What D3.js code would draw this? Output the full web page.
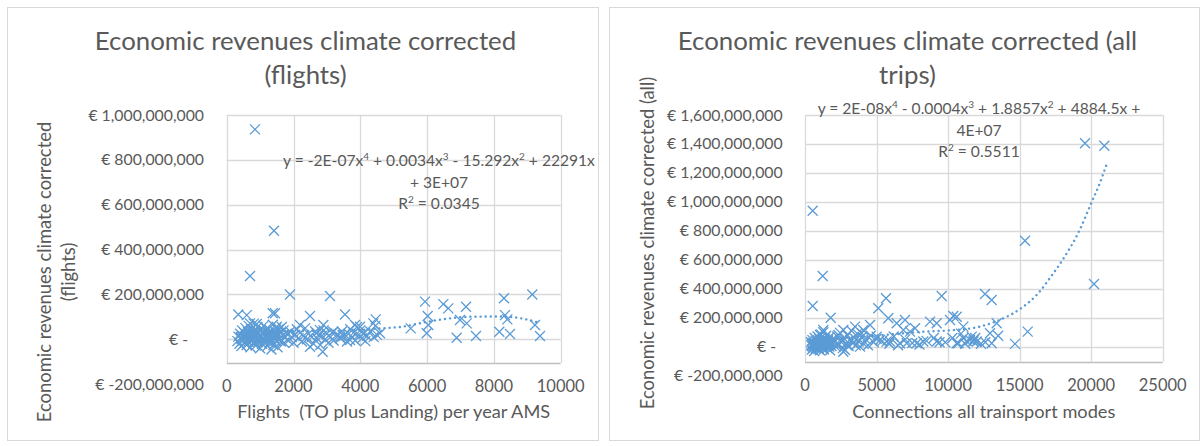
<!DOCTYPE html>
<meta charset="utf-8">
<style>
  body { margin: 0; background: #fff; }
  text { font-family: Lato, "Open Sans", sans-serif; fill: #595959; white-space: pre; }
</style>
<body>
<script src="https://cdn.jsdelivr.net/npm/d3@7"></script>
<script>

// ---- data (values in millions of €) ----

var flightsX = [
  847, 1416, 698, 1895, 3093, 348, 600, 1377, 1446, 2494, 3542, 4461,
  5937, 6018, 6485, 6635, 7165, 8302, 9150, 8332, 8402, 6985, 7185, 9230,
  5509, 6036, 5988, 6886, 7464, 8162, 8482, 9380, 2874, 2494,
  698, 898, 1497, 2195, 2894, 3842, 3992, 4390, 4091, 4590, 3692, 3393, 3193, 2794,
  320, 350, 380, 400, 420, 440, 460, 480, 500, 520, 540, 560, 580, 600, 610, 630,
  650, 660, 680, 700, 710, 730, 750, 760, 780, 800, 810, 830, 850, 870, 880, 900,
  920, 940, 960, 980, 1000, 1020, 1040, 1060, 1080, 1100, 1120, 1140, 1160, 1180,
  1200, 1220, 1240, 1260, 1280, 1300, 1320, 1340, 1360, 1380, 1400, 1420, 1440,
  1460, 1480, 1500, 1520, 1540, 1560, 1580, 1600, 1620, 1650, 1680, 1700, 1720, 1750,
  1800, 1850, 1900, 1950, 2000, 2050, 2100, 2150, 2200, 2250, 2300, 2350, 2400,
  2450, 2550, 2600, 2650, 2700, 2750, 2800, 2850, 2900, 2950, 3000, 3050, 3100,
  3150, 3200, 3300, 3400, 3450, 3500, 3600, 3650, 3700, 3750, 3800, 3850, 3900,
  3950, 4000, 4050, 4100, 4150, 4200, 4300, 4400, 4450, 4500,
  450, 520, 590, 640, 720, 790, 860, 940, 1010, 1090, 1170, 1250, 1330, 1410, 1490, 1570
];
var flightsY = [
  936, 484, 282, 200, 193, 111, 108, 116, 116, 104, 111, 89,
  168, 104, 157, 138, 145, 183, 200, 108, 89, 86, 71, 64,
  49, 64, 27, 7, 15, 34, 24, 15, -55, -33,
  71, 68, 56, 64, 64, 64, 56, 71, 27, 27, -3, 12, 34, 41,
  -8, 12, -20, 25, 5, -30, 40, 15, -5, 30, -15, 50, 8, -25, 20, 35,
  -10, 60, 2, 18, -35, 45, 10, -5, 28, -18, 70, 12, 38, -28, 22, 5,
  55, -12, 30, 15, -40, 42, 8, -20, 25, 60, 0, 35, -8, 18,
  48, -30, 10, 28, -15, 40, 5, -45, 20, 65, -25, 12, 35,
  -5, 50, 15, -35, 25, 45, 2, 30, -10, 55, 18, 40, -15, 8,
  25, -5, 35, 10, -15, 20, 45, 5, 30, -10, 15, 50, 0,
  25, 10, -20, 35, 5, 20, -25, 15, 40, 0, 25, -15, 10,
  30, -5, 20, 5, 35, 15, -10, 25, 45, 10, 30, -5, 55,
  20, 40, 5, 25, -8, 15, 35, 10, 60, 20,
  0, 10, -5, 15, 3, 22, -12, 8, 18, -2, 12, 26, -8, 6, 20, 0
];

var tripsX = [
  537, 1237, 537, 1795, 19570, 20920, 15376, 20200, 15564, 14677,
  12580, 13048, 9553, 5661, 5123, 5822, 6409, 6989, 7688, 8736, 9203,
  10134, 10603, 11065, 11653, 12930, 13398, 13048, 11765, 10603, 9203,
  8268, 7108, 5941, 5011, 4546, 3963, 3497, 2679, 2797,
  10366, 4075, 2330, 1281, 1048, 2679, 5241, 5706, 6640, 7807, 10717,
  11532, 12000, 11064, 7340, 6873, 9000, 9400, 10900, 11300, 11900, 12300, 13500,
  450, 480, 520, 560, 600, 640, 680, 720, 760, 800, 840, 880, 920, 960, 1000,
  1040, 1080, 1120, 1160, 1200, 1240, 1280, 1320, 1360, 1400, 1440, 1480, 1520,
  1560, 1600, 1650, 1700, 1750, 1800, 1850, 1900, 1950,
  2050, 2150, 2250, 2350, 2450, 2550, 2650, 2750, 2850, 2950, 3050, 3150, 3250,
  3350, 3450, 3550, 3650, 3750, 3850, 3950, 4100, 4250, 4400, 4600, 4800, 5000,
  5400, 5900, 6200, 6500, 7000, 7500, 8000, 8500, 9800, 10300, 11200, 11800, 12600,
  420, 500, 580, 660, 740, 820, 900, 980, 1060, 1140, 1220, 1300, 1380, 1460, 1540,
  1620, 1700, 470, 610, 750, 890, 1030, 1170, 1310, 1450, 1590, 2200, 2600, 3000, 3400
];
var tripsY = [
  939, 488, 281, 200, 1405, 1388, 732, 433, 104, 19,
  364, 322, 350, 334, 265, 196, 162, 184, 127, 173, 162,
  184, 207, 138, 69, 92, 162, 23, 35, 23, 35,
  35, 23, 35, 69, 150, 92, 138, 115, -23,
  212, 115, 81, 115, 81, -35, 46, 35, 23, 23, 23,
  46, 35, 58, 104, 115, 60, 30, 90, 40, 60, 20, 75,
  10, -20, 45, 0, 25, -30, 60, 15, -10, 35, 5, 70, -15, 20, 50,
  -25, 10, 85, 30, -5, 40, 100, -20, 15, 55, 0, 75, 25,
  -10, 45, 10, 65, -25, 30, 5, 50, 20,
  40, 0, 70, 15, 95, 30, -10, 55, 20, 80, 5, 45, 110,
  25, 60, 10, 90, 35, 0, 65, 20, 50, 10, 75, 30, 55,
  40, 20, 70, 10, 50, 25, 15, 40, 30, 60, 20, 45, 30,
  30, 5, 20, -5, 40, 12, 28, -12, 8, 35, 18, -2, 48, 22, 10,
  32, 0, 15, 25, 2, 45, 20, -8, 30, 12, 38, 20, 40, 10, 30
];

// trendline (x, y in M€)
var flightsTrendX = [300, 1000, 2000, 3000, 4000, 4600, 5200, 6000, 6600, 7200, 8200, 8800, 9400];
var flightsTrendY = [28, 34, 37, 38, 42, 49, 55, 78, 92, 100, 102, 94, 72];
var tripsTrendX = [450, 2000, 4000, 5500, 6600, 8300, 10100, 12200, 13600, 15100, 16400, 17100, 18000, 19200, 20000, 20600, 21100];
var tripsTrendY = [42, 55, 70, 80, 90, 103, 112, 138, 184, 265, 380, 472, 599, 806, 990, 1128, 1266];

var flightsXTicks = [0, 2000, 4000, 6000, 8000, 10000];
var flightsYTicks = [-200, 0, 200, 400, 600, 800, 1000];
var tripsXTicks = [0, 5000, 10000, 15000, 20000, 25000];
var tripsYTicks = [-200, 0, 200, 400, 600, 800, 1000, 1200, 1400, 1600];

var blue = "#5b9bd5";

var svg = d3.select("body").append("svg")
    .attr("width", 1204)
    .attr("height", 446);

function euro(v) {
  if (v === 0) return "€ -";
  return "€ " + d3.format(",")(v * 1e6).replace("\u2212", "-");
}

function panel(o) {
  var g = svg.append("g");

  g.append("rect")
      .attr("x", o.frame[0] + 0.5).attr("y", o.frame[1] + 0.5)
      .attr("width", o.frame[2]).attr("height", o.frame[3])
      .attr("fill", "#fff").attr("stroke", "#d9d9d9");

  var x = d3.scaleLinear().domain(d3.extent(o.xTicks)).range([o.left, o.right]);
  var y = d3.scaleLinear().domain(d3.extent(o.yTicks)).range([o.yMin, o.top]);

  // gridlines (the plot is cut off at o.bottom)
  g.selectAll(".hg").data(o.yTicks.filter(function(d) { return y(d) <= o.bottom; }))
    .enter().append("line")
      .attr("x1", o.left).attr("x2", o.right)
      .attr("y1", function(d) { return Math.round(y(d)) + 0.5; })
      .attr("y2", function(d) { return Math.round(y(d)) + 0.5; })
      .attr("stroke", "#d9d9d9").attr("stroke-width", 1.3);

  g.selectAll(".vg").data(o.xTicks)
    .enter().append("line")
      .attr("x1", function(d) { return Math.round(x(d)) + 0.5; })
      .attr("x2", function(d) { return Math.round(x(d)) + 0.5; })
      .attr("y1", o.top).attr("y2", o.bottom)
      .attr("stroke", "#d9d9d9").attr("stroke-width", 1.3);

  g.append("line")
      .attr("x1", o.left).attr("x2", o.right)
      .attr("y1", Math.round(o.bottom) + 0.5).attr("y2", Math.round(o.bottom) + 0.5)
      .attr("stroke", "#bfbfbf").attr("stroke-width", 1.3);

  // y tick labels
  g.selectAll(".yl").data(o.yTicks)
    .enter().append("text")
      .attr("x", function(d) { return d === 0 ? o.labelRight - o.zeroShift : o.labelRight; })
      .attr("y", function(d) { return y(d); })
      .attr("dy", "0.35em")
      .attr("text-anchor", "end")
      .style("font-size", "15.8px")
      .text(euro);

  // x tick labels
  g.selectAll(".xl").data(o.xTicks)
    .enter().append("text")
      .attr("x", function(d) { return x(d); })
      .attr("y", o.xLabelY)
      .attr("dy", "0.35em")
      .attr("text-anchor", "middle")
      .style("font-size", "16.5px")
      .text(function(d) { return d; });

  // titles
  o.title.forEach(function(t, i) {
    g.append("text")
        .attr("x", o.titleX).attr("y", o.titleY + i * 33.5)
        .attr("dy", "0.35em")
        .attr("text-anchor", "middle")
        .style("font-size", "25.8px")
        .text(t);
  });

  g.append("text")
      .attr("x", (o.left + o.right) / 2).attr("y", o.xTitleY)
      .attr("dy", "0.35em")
      .attr("text-anchor", "middle")
      .style("font-size", "18.2px")
      .text(o.xTitle);

  o.yTitle.forEach(function(t, i) {
    g.append("text")
        .attr("transform", "translate(" + (o.yTitleX + i * 24) + "," + o.yTitleY + ") rotate(-90)")
        .attr("dy", "0.35em")
        .attr("text-anchor", "middle")
        .style("font-size", "18.4px")
        .text(t);
  });

  // trendline
  var trend = d3.zip(o.trendX, o.trendY);
  g.append("path")
      .datum(trend)
      .attr("fill", "none")
      .attr("stroke", blue)
      .attr("stroke-width", 2.4)
      .attr("stroke-linecap", "round")
      .attr("stroke-dasharray", "0.1 5")
      .attr("d", d3.line()
          .x(function(d) { return x(d[0]); })
          .y(function(d) { return y(d[1]); })
          .curve(d3.curveMonotoneX));

  // markers
  var pts = d3.zip(o.xs, o.ys);
  var s = 5;
  g.selectAll(".pt").data(pts)
    .enter().append("path")
      .attr("transform", function(d) { return "translate(" + x(d[0]) + "," + y(d[1]) + ")"; })
      .attr("d", "M" + -s + "," + -s + "L" + s + "," + s + "M" + -s + "," + s + "L" + s + "," + -s)
      .attr("stroke", blue)
      .attr("stroke-width", 1.3)
      .attr("fill", "none");

  // equation label (superscripts raised by 6px, next run brought back down)
  var eq = g.append("g").style("font-size", "15.6px");
  o.eq.forEach(function(line, i) {
    var t = eq.append("text")
        .attr("x", o.eqX).attr("y", o.eqY + i * 21.5)
        .attr("dy", "0.35em")
        .attr("text-anchor", "middle");
    var raised = false;
    line.forEach(function(part) {
      if (typeof part === "string") {
        t.append("tspan").attr("dy", raised ? 6 : 0).text(part);
        raised = false;
      } else {
        t.append("tspan").attr("dy", -6).style("font-size", "10px").text(part.exp);
        raised = true;
      }
    });
  });
}

panel({
  frame: [7, 7, 591, 433],
  left: 226.7, right: 560.7, top: 115, bottom: 363, yMin: 384.2,
  xTicks: flightsXTicks, yTicks: flightsYTicks,
  labelRight: 204, zeroShift: 16, xLabelY: 386.5,
  title: ["Economic revenues climate corrected", "(flights)"], titleX: 305.5, titleY: 41,
  xTitle: "Flights  (TO plus Landing) per year AMS", xTitleY: 412,
  yTitle: ["Economic revenues climate corrected", "(flights)"], yTitleX: 45, yTitleY: 272,
  xs: flightsX, ys: flightsY, trendX: flightsTrendX, trendY: flightsTrendY,
  eqX: 439, eqY: 166,
  eq: [
    ["y = -2E-07x", {exp: "4"}, " + 0.0034x", {exp: "3"}, " - 15.292x", {exp: "2"}, " + 22291x"],
    ["+ 3E+07"],
    ["R", {exp: "2"}, " = 0.0345"]
  ]
});

panel({
  frame: [609, 7, 590, 433],
  left: 805, right: 1162.7, top: 115, bottom: 361.7, yMin: 375.6,
  xTicks: tripsXTicks, yTicks: tripsYTicks,
  labelRight: 782.7, zeroShift: 6.7, xLabelY: 385,
  title: ["Economic revenues climate corrected (all", "trips)"], titleX: 907.5, titleY: 41,
  xTitle: "Connections all trainsport modes", xTitleY: 412,
  yTitle: ["Economic revenues climate corrected (all)"], yTitleX: 648, yTitleY: 243,
  xs: tripsX, ys: tripsY, trendX: tripsTrendX, trendY: tripsTrendY,
  eqX: 979, eqY: 114,
  eq: [
    ["y = 2E-08x", {exp: "4"}, " - 0.0004x", {exp: "3"}, " + 1.8857x", {exp: "2"}, " + 4884.5x +"],
    ["4E+07"],
    ["R", {exp: "2"}, " = 0.5511"]
  ]
});

</script>
